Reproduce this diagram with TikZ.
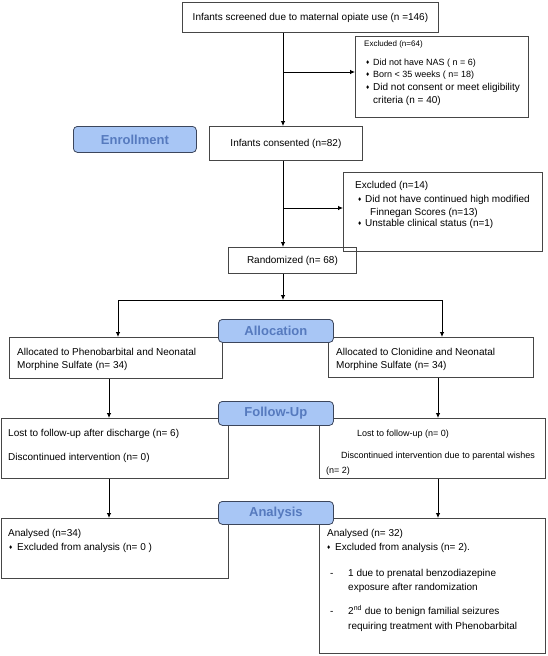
\documentclass[tikz,border=0pt]{standalone}
\usepackage{fontspec}
\setmainfont{Liberation Sans}
\usetikzlibrary{arrows.meta,calc}
\definecolor{boxgray}{RGB}{70,70,70}
\definecolor{labelfill}{RGB}{168,198,245}
\definecolor{labeltext}{RGB}{86,122,190}
\definecolor{labeldraw}{RGB}{60,70,92}
\newcommand\diabullet{\raisebox{1pt}{\fontsize{6.5}{6.5}\selectfont ♦}}
\begin{document}
\begin{tikzpicture}[x=1pt,y=-1pt,
  box/.style={draw=boxgray, line width=0.9pt, inner sep=0pt, anchor=north west, font=\fontsize{10}{12}\selectfont},
  phase/.style={draw=labeldraw, fill=labelfill, rounded corners=4pt, line width=0.8pt, inner sep=0pt, anchor=north west, font=\fontsize{13}{13}\selectfont\bfseries, text=labeltext},
  txt/.style={anchor=base west, inner sep=0pt, font=\fontsize{10}{12}\selectfont},
  stxt/.style={anchor=base west, inner sep=0pt, font=\fontsize{9}{11}\selectfont},
  ttxt/.style={anchor=base west, inner sep=0pt, font=\fontsize{8}{9}\selectfont},
  arr/.style={-{Latex[length=5pt,width=4.5pt]}, line width=0.8pt},
  ln/.style={line width=0.8pt}]
\useasboundingbox (0,0) rectangle (547,656);

% boxes
\node[box, minimum width=256pt, minimum height=30pt] (screen) at (182,2) {Infants screened due to maternal opiate use (n =146)};
\node[box, minimum width=173pt, minimum height=81pt] (excl1) at (355,36) {};
\node[box, minimum width=153pt, minimum height=34pt] (consented) at (209,126) {Infants consented (n=82)};
\node[phase, minimum width=123pt, minimum height=26pt] (enroll) at (73,126) {Enrollment};
\node[box, minimum width=199pt, minimum height=79pt] (excl2) at (343,172) {};
\node[box, minimum width=128pt, minimum height=26pt] (randomized) at (228,247) {Randomized (n= 68)};
\node[box, minimum width=213pt, minimum height=41pt] (allocL) at (9,337) {};
\node[box, minimum width=205pt, minimum height=40pt] (allocR) at (328,337) {};
\node[phase, minimum width=115pt, minimum height=23pt] (allocation) at (218,319) {Allocation};
\node[box, minimum width=227pt, minimum height=60pt] (followL) at (1,418) {};
\node[box, minimum width=226pt, minimum height=60pt] (followR) at (319,418) {};
\node[phase, minimum width=115pt, minimum height=24pt] (followup) at (218,401) {Follow-Up};
\node[box, minimum width=227pt, minimum height=60pt] (analL) at (1,518) {};
\node[box, minimum width=226pt, minimum height=135pt] (analR) at (319,518) {};
\node[phase, minimum width=115pt, minimum height=23pt] (analysis) at (218,501) {Analysis};

% texts of excluded 1
\node[ttxt] (e1h) at (364,46.5) {Excluded (n=64)};
\node[stxt] (e1a) at (366,65) {\makebox[7pt][l]{\diabullet}Did not have NAS ( n = 6)};
\node[stxt] (e1b) at (366,77.5) {\makebox[7pt][l]{\diabullet}Born < 35 weeks ( n= 18)};
\node[txt] (e1c) at (366,90.5) {\makebox[7pt][l]{\diabullet}Did not consent or meet eligibility};
\node[txt] (e1d) at (373,103.5) {criteria (n = 40)};

% texts of excluded 2
\node[txt] (e2h) at (355,188.5) {Excluded (n=14)};
\node[txt] (e2a) at (358,202.5) {\makebox[7pt][l]{\diabullet}Did not have continued high modified};
\node[txt] (e2b) at (370,215.5) {Finnegan Scores (n=13)};
\node[txt] (e2c) at (358,226) {\makebox[7pt][l]{\diabullet}Unstable clinical status (n=1)};

% allocation texts
\node[txt] (aL1) at (17,355.5) {Allocated to Phenobarbital and Neonatal};
\node[txt] (aL2) at (17,368) {Morphine Sulfate (n= 34)};
\node[txt] (aR1) at (336,355.5) {Allocated to Clonidine and Neonatal};
\node[txt] (aR2) at (336,368) {Morphine Sulfate (n= 34)};

% follow-up texts
\node[txt] (fL1) at (8,436.5) {Lost to follow-up after discharge (n= 6)};
\node[txt] (fL2) at (8,460.5) {Discontinued intervention (n= 0)};
\node[stxt] (fR1) at (357,436) {Lost to follow-up (n= 0)};
\node[stxt] (fR2) at (341,458.5) {Discontinued intervention due to parental wishes};
\node[stxt] (fR3) at (326,473) {(n= 2)};

% analysis texts
\node[txt] (nL1) at (8,536.5) {Analysed (n=34)};
\node[txt] (nL2) at (9,550.5) {\makebox[8pt][l]{\diabullet}Excluded from analysis (n= 0 )};
\node[txt] (nR1) at (327,536.5) {Analysed (n= 32)};
\node[txt] (nR2) at (327,550.5) {\makebox[8pt][l]{\diabullet}Excluded from analysis (n= 2).};
\node[txt] (nR3) at (330,576.5) {\makebox[18pt][l]{-}1 due to prenatal benzodiazepine};
\node[txt] (nR4) at (348,590.5) {exposure after randomization};
\node[txt] (nR5) at (330,614.5) {\makebox[18pt][l]{-}2\textsuperscript{nd} due to benign familial seizures};
\node[txt] (nR6) at (348,629.5) {requiring treatment with Phenobarbital};

% connectors
\coordinate (sp) at (283,0);
\coordinate (b1) at (283,72);
\coordinate (b2) at (283,208);
\coordinate (split) at (283,300);
\coordinate (dL) at (118,0);
\coordinate (dR) at (442,0);
\coordinate (colL) at (109,0);
\coordinate (colR) at (438,0);
\draw[arr] (screen.south -| sp) -- (consented.north -| sp);
\draw[arr] (b1) -- (b1 -| excl1.west);
\draw[arr] (consented.south -| sp) -- (randomized.north -| sp);
\draw[arr] (b2) -- (b2 -| excl2.west);
\draw[arr] (randomized.south -| sp) -- (split);
\draw[arr] (split) -| (allocL.north -| dL);
\draw[arr] (split) -| (allocR.north -| dR);
\draw[arr] (allocL.south -| colL) -- (followL.north -| colL);
\draw[arr] (allocR.south -| colR) -- (followR.north -| colR);
\draw[arr] (followL.south -| colL) -- (analL.north -| colL);
\draw[arr] (followR.south -| colR) -- (analR.north -| colR);
\end{tikzpicture}
\end{document}
